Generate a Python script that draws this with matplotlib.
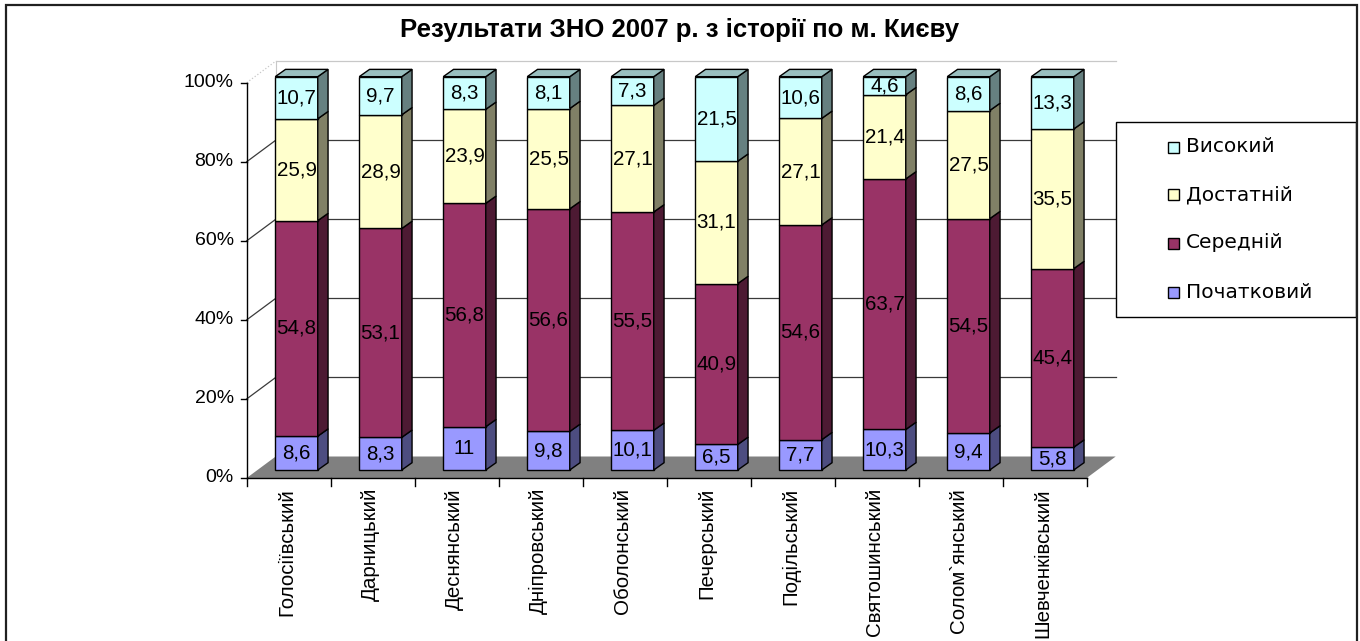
import numpy as np
import matplotlib.pyplot as plt
from matplotlib.patches import Polygon, Rectangle
from matplotlib.transforms import offset_copy

plt.rcParams['font.family'] = ['Liberation Sans', 'DejaVu Sans']

districts = ['Голосіївський', 'Дарницький', 'Деснянський', 'Дніпровський',
             'Оболонський', 'Печерський', 'Подільський', 'Святошинський',
             'Солом`янський', 'Шевченківський']
levels = ['Початковий', 'Середній', 'Достатній', 'Високий']
pochatkovyi = [8.6, 8.3, 11, 9.8, 10.1, 6.5, 7.7, 10.3, 9.4, 5.8]
serednii = [54.8, 53.1, 56.8, 56.6, 55.5, 40.9, 54.6, 63.7, 54.5, 45.4]
dostatnii = [25.9, 28.9, 23.9, 25.5, 27.1, 31.1, 27.1, 21.4, 27.5, 35.5]
vysokyi = [10.7, 9.7, 8.3, 8.1, 7.3, 21.5, 10.6, 4.6, 8.6, 13.3]
colors = ['#9999FF', '#993366', '#FFFFCC', '#CCFFFF']
yticks = [0, 20, 40, 60, 80, 100]

W, H = 1360, 641


def shade(c, k):
    c = np.array(plt.matplotlib.colors.to_rgb(c))
    return tuple(c * k)


def fmt(v):
    s = ('%.1f' % v).rstrip('0').rstrip('.')
    return s.replace('.', ',')


def main():
    fig = plt.figure(figsize=(W / 100, H / 100), dpi=100)
    # front plane of the 3d box: x 246.7..1086.7 px, y 478..82.7 px
    ax = fig.add_axes([246.7 / W, (H - 478) / H, 840 / W, 395.3 / H])
    ax.set_xlim(0, 10)
    ax.set_ylim(0, 100)
    ax.axis('off')

    px_x = 84.0
    px_y = 3.953
    DX, DY = 29 / px_x, 21.5 / px_y          # floor depth
    FX, FY = 7.8 / px_x, 8.0 / px_y          # bar front offset
    BX, BY = 10.3 / px_x, 7.3 / px_y         # bar depth
    bw = 0.506

    kw = dict(clip_on=False)
    # floor
    ax.add_patch(Polygon([(0, 0), (10, 0), (10 + DX, DY), (DX, DY)],
                         closed=True, facecolor='#808080', edgecolor='none',
                         zorder=1, **kw))
    # walls / gridlines
    for t in yticks[1:]:
        c = '#c8c8c8' if t == 100 else '#3a3a3a'
        ax.plot([DX, 10 + DX], [t + DY, t + DY], color=c, lw=0.9, zorder=1.5, **kw)
        ax.plot([0, DX], [t, t + DY], color=c, lw=0.9, zorder=1.5,
                ls=':' if t == 100 else '-', **kw)
    ax.plot([DX, DX], [DY, 100 + DY], color='#c8c8c8', lw=0.8, zorder=1.4, **kw)

    # axes
    ax.plot([0, 0], [0, 100], color='black', lw=1.0, zorder=2, **kw)
    ax.plot([0, 10], [0, 0], color='black', lw=1.0, zorder=2, **kw)
    for t in yticks:
        ax.plot([-6 / px_x, 0], [t, t], color='black', lw=1.0, zorder=2, **kw)
        ax.text(-13 / px_x, t, '%d%%' % t, ha='right', va='center',
                fontsize=14, **kw)
    for i in range(11):
        ax.plot([i, i], [0, -8 / px_y], color='black', lw=1.0, zorder=2, **kw)
    lab_tr = offset_copy(ax.transData, fig=fig, x=-2, y=-10, units='dots')
    for i, d in enumerate(districts):
        ax.text(i + 0.5, 0, d, rotation=90, ha='center', va='top',
                fontsize=14.8, transform=lab_tr, **kw)

    # bars
    series = [pochatkovyi, serednii, dostatnii, vysokyi]
    for i in range(len(districts)):
        vals = np.array([s[i] for s in series], dtype=float)
        vals = vals / vals.sum() * 100
        x0 = i + 0.5 - bw / 2 + FX
        x1 = x0 + bw
        bottom = FY
        z = 10 + i
        for k, v in enumerate(vals):
            h = v * 0.995
            y0, y1 = bottom, bottom + h
            ax.add_patch(Polygon([(x0, y0), (x1, y0), (x1, y1), (x0, y1)],
                                 closed=True, facecolor=colors[k],
                                 edgecolor='black', lw=1.0, zorder=z, **kw))
            ax.add_patch(Polygon([(x1, y0), (x1 + BX, y0 + BY),
                                  (x1 + BX, y1 + BY), (x1, y1)],
                                 closed=True, facecolor=shade(colors[k], 0.5),
                                 edgecolor='black', lw=1.0, zorder=z, **kw))
            if k == len(vals) - 1:
                ax.add_patch(Polygon([(x0, y1), (x1, y1), (x1 + BX, y1 + BY),
                                      (x0 + BX, y1 + BY)],
                                     closed=True,
                                     facecolor=shade(colors[k], 0.75),
                                     edgecolor='black', lw=1.0, zorder=z, **kw))
            ax.text((x0 + x1) / 2, (y0 + y1) / 2, fmt(series[k][i]),
                    ha='center', va='center', fontsize=14.8, zorder=z + 0.5, **kw)
            bottom = y1

    # title
    fig.text(0.4995, 1 - 30 / H, 'Результати ЗНО 2007 р. з історії по м. Києву',
             ha='center', va='center', fontsize=18.5, fontweight='bold')

    # legend box
    def fx(x):
        return x / W

    def fy(y):
        return 1 - y / H

    fig.patches.append(Rectangle((fx(1116), fy(317)), fx(1356) - fx(1116),
                                 fy(122) - fy(317), transform=fig.transFigure,
                                 facecolor='white', edgecolor='black', lw=1.0))
    ys = [147, 195, 243, 292]
    for j, k in enumerate(range(3, -1, -1)):
        fig.patches.append(Rectangle((fx(1168), fy(ys[j] + 5.5)), fx(11), 11 / H,
                                     transform=fig.transFigure,
                                     facecolor=colors[k], edgecolor='black',
                                     lw=1.0))
        fig.text(fx(1186), fy(ys[j]), levels[k], ha='left', va='center',
                 fontsize=14.5, family='DejaVu Sans')

    # outer frame
    fig.patches.append(Rectangle((fx(6), fy(660)), fx(1357) - fx(6),
                                 fy(5) - fy(660), transform=fig.transFigure,
                                 facecolor='none', edgecolor='#202020', lw=1.6))

    fig.savefig('out.png', dpi=100)


if __name__ == '__main__':
    main()
